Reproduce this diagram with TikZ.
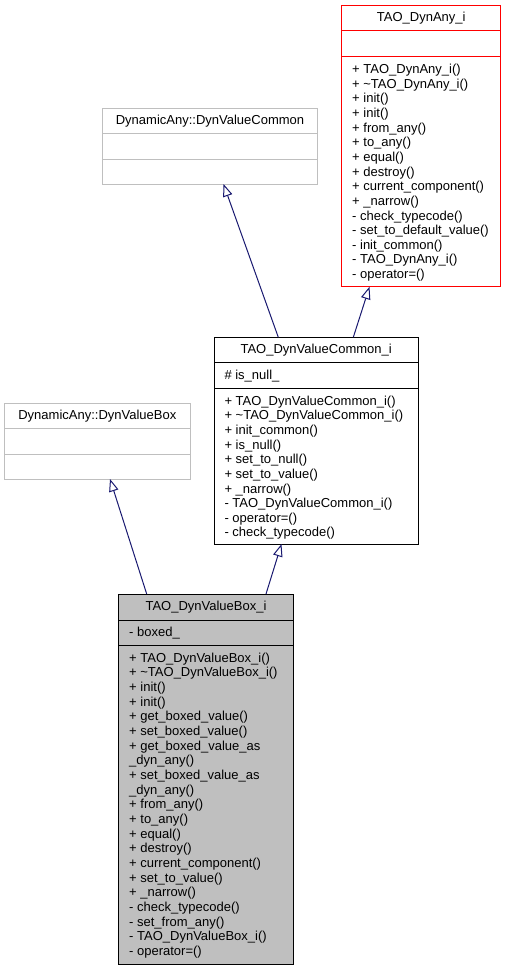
\documentclass[tikz,border=0pt]{standalone}
\usepackage{fontspec}
\setmainfont{Liberation Sans}
\usetikzlibrary{arrows.meta}
\definecolor{edgeblue}{HTML}{191970}
\definecolor{boxgrey}{HTML}{BFBFBF}
\tikzset{
  umlbox/.style={rectangle, inner sep=0pt, outer sep=0pt, line width=1pt, anchor=north west},
  txt/.style={inner sep=0pt, outer sep=0pt, font=\fontsize{13}{15}\selectfont, text=black},
  ttl/.style={txt, anchor=base},
  inh/.style={draw=edgeblue, line width=1pt, -{Triangle[open, length=12.5pt, width=9.5pt, line width=1pt]}},
}
\newcommand\mlines[4]{%
  \foreach \t [count=\i from 0] in {#4} {
    \node[txt, anchor=base west] (#1-\i) at (#2, #3+\i*14.65) {\t};
  }%
}
\begin{document}
\begin{tikzpicture}[x=1pt, y=-1pt]
\useasboundingbox (0,0) rectangle (505,971);

% TAO_DynAny_i
\node[umlbox, draw=red, minimum width=159pt, minimum height=281pt] (dynany) at (341.7,5.7) {};
\draw[red, line width=1pt] ([yshift=-25pt]dynany.north west) -- ([yshift=-25pt]dynany.north east);
\draw[red, line width=1pt] ([yshift=-51pt]dynany.north west) -- ([yshift=-51pt]dynany.north east);
\node[ttl] (dynany-t) at (421.2,22) {TAO\_DynAny\_i};
\mlines{dynany-m}{352.2}{73.5}{+ TAO\_DynAny\_i(),+ \textasciitilde TAO\_DynAny\_i(),+ init(),+ init(),+ from\_any(),+ to\_any(),+ equal(),+ destroy(),+ current\_component(),+ \_narrow(),- check\_typecode(),- set\_to\_default\_value(),- init\_common(),- TAO\_DynAny\_i(),- operator=()}

% DynamicAny::DynValueCommon
\node[umlbox, draw=boxgrey, minimum width=215.4pt, minimum height=75.7pt] (dvc) at (102.3,108.3) {};
\draw[boxgrey, line width=1pt] ([yshift=-25pt]dvc.north west) -- ([yshift=-25pt]dvc.north east);
\draw[boxgrey, line width=1pt] ([yshift=-51pt]dvc.north west) -- ([yshift=-51pt]dvc.north east);
\node[ttl] (dvc-t) at (210,124.6) {DynamicAny::DynValueCommon};

% DynamicAny::DynValueBox
\node[umlbox, draw=boxgrey, minimum width=185.3pt, minimum height=75.7pt] (dvb) at (4.7,403.3) {};
\draw[boxgrey, line width=1pt] ([yshift=-25.5pt]dvb.north west) -- ([yshift=-25.5pt]dvb.north east);
\draw[boxgrey, line width=1pt] ([yshift=-51pt]dvb.north west) -- ([yshift=-51pt]dvb.north east);
\node[ttl] (dvb-t) at (97.35,419.6) {DynamicAny::DynValueBox};

% TAO_DynValueCommon_i
\node[umlbox, draw=black, minimum width=204.3pt, minimum height=206.7pt] (dvci) at (214,337.3) {};
\draw[black, line width=1pt] ([yshift=-25.4pt]dvci.north west) -- ([yshift=-25.4pt]dvci.north east);
\draw[black, line width=1pt] ([yshift=-51pt]dvci.north west) -- ([yshift=-51pt]dvci.north east);
\node[ttl] (dvci-t) at (316.15,353.6) {TAO\_DynValueCommon\_i};
\node[txt, anchor=base west] (dvci-a) at (224.5,379.3) {\# is\_null\_};
\mlines{dvci-m}{224.5}{405.1}{+ TAO\_DynValueCommon\_i(),+ \textasciitilde TAO\_DynValueCommon\_i(),+ init\_common(),+ is\_null(),+ set\_to\_null(),+ set\_to\_value(),+ \_narrow(),- TAO\_DynValueCommon\_i(),- operator=(),- check\_typecode()}

% TAO_DynValueBox_i
\node[umlbox, draw=black, fill=boxgrey, minimum width=174.6pt, minimum height=370.3pt] (dvbi) at (118.7,594) {};
\draw[black, line width=1pt] ([yshift=-26pt]dvbi.north west) -- ([yshift=-26pt]dvbi.north east);
\draw[black, line width=1pt] ([yshift=-51.5pt]dvbi.north west) -- ([yshift=-51.5pt]dvbi.north east);
\node[ttl] (dvbi-t) at (206,610.3) {TAO\_DynValueBox\_i};
\node[txt, anchor=base west] (dvbi-a) at (129.2,636.8) {- boxed\_};
\mlines{dvbi-m}{129.2}{662.3}{+ TAO\_DynValueBox\_i(),+ \textasciitilde TAO\_DynValueBox\_i(),+ init(),+ init(),+ get\_boxed\_value(),+ set\_boxed\_value(),+ get\_boxed\_value\_as,\_dyn\_any(),+ set\_boxed\_value\_as,\_dyn\_any(),+ from\_any(),+ to\_any(),+ equal(),+ destroy(),+ current\_component(),+ set\_to\_value(),+ \_narrow(),- check\_typecode(),- set\_from\_any(),- TAO\_DynValueBox\_i(),- operator=()}

% inheritance edges
\draw[inh] ([xshift=64.3pt]dvci.north west) -- ([xshift=121.2pt]dvc.south west);
\draw[inh] ([xshift=139.3pt]dvci.north west) -- ([xshift=27.8pt]dynany.south west);
\draw[inh] ([xshift=28pt]dvbi.north west) -- ([xshift=105.3pt]dvb.south west);
\draw[inh] ([xshift=147.3pt]dvbi.north west) -- ([xshift=67.5pt]dvci.south west);
\end{tikzpicture}
\end{document}
